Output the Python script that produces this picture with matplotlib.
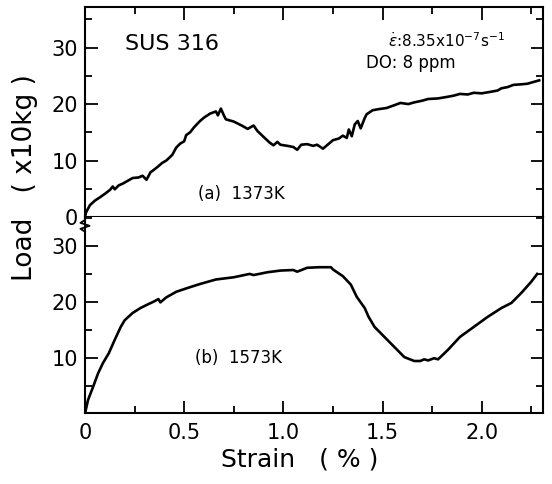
import matplotlib
matplotlib.use('Agg')
import matplotlib.pyplot as plt
from matplotlib.ticker import MultipleLocator

# (a) 1373K
strain_a = [0, 0.005, 0.025, 0.05, 0.076, 0.10, 0.126, 0.14, 0.15, 0.17,
            0.19, 0.21, 0.24, 0.27, 0.29, 0.31, 0.33, 0.36, 0.39, 0.41,
            0.44, 0.46, 0.48, 0.50, 0.51, 0.53, 0.55, 0.58, 0.60, 0.63,
            0.66, 0.67, 0.685, 0.70, 0.71, 0.75, 0.79, 0.82, 0.85, 0.87,
            0.90, 0.93, 0.95, 0.97, 0.985, 1.02, 1.05, 1.07, 1.09, 1.12,
            1.15, 1.17, 1.20, 1.23, 1.25, 1.28, 1.30, 1.32, 1.33, 1.345,
            1.36, 1.375, 1.39, 1.41, 1.42, 1.45, 1.48, 1.52, 1.56, 1.59,
            1.63, 1.66, 1.70, 1.73, 1.78, 1.83, 1.86, 1.89, 1.93, 1.96,
            2.00, 2.05, 2.08, 2.10, 2.13, 2.16, 2.20, 2.23, 2.26, 2.29]
load_a = [0, 0.8, 2.1, 2.9, 3.5, 4.1, 4.8, 5.4, 4.9, 5.6,
          5.9, 6.3, 6.9, 7.0, 7.3, 6.6, 7.9, 8.7, 9.6, 10.0,
          11.0, 12.3, 13.0, 13.4, 14.5, 15.0, 15.9, 17.0, 17.6, 18.3,
          18.7, 18.0, 19.2, 18.0, 17.3, 16.9, 16.2, 15.6, 16.2, 15.2,
          14.2, 13.2, 12.7, 13.3, 12.8, 12.6, 12.4, 11.9, 12.8, 12.9,
          12.6, 12.8, 12.1, 13.0, 13.6, 13.9, 14.4, 14.0, 15.5, 14.3,
          16.4, 17.0, 15.7, 17.5, 18.2, 18.9, 19.1, 19.3, 19.8, 20.2,
          20.0, 20.3, 20.6, 20.9, 21.0, 21.3, 21.5, 21.8, 21.7, 22.0,
          21.9, 22.2, 22.4, 22.8, 23.0, 23.4, 23.5, 23.6, 23.9, 24.2]

# (b) 1573K
strain_b = [0, 0.015, 0.04, 0.066, 0.09, 0.12, 0.15, 0.18, 0.20, 0.24,
            0.28, 0.32, 0.35, 0.37, 0.38, 0.41, 0.46, 0.51, 0.58, 0.66,
            0.75, 0.83, 0.85, 0.92, 0.985, 1.05, 1.07, 1.12, 1.18, 1.24,
            1.25, 1.30, 1.34, 1.37, 1.41, 1.43, 1.46, 1.51, 1.56, 1.61,
            1.66, 1.69, 1.71, 1.73, 1.76, 1.78, 1.83, 1.89, 1.96, 2.03,
            2.10, 2.15, 2.20, 2.25, 2.28]
load_b = [0, 2.4, 4.7, 7.2, 9.0, 10.8, 13.2, 15.5, 16.7, 18.0,
          18.9, 19.6, 20.1, 20.5, 19.9, 20.8, 21.8, 22.4, 23.2, 24.0,
          24.4, 25.0, 24.8, 25.3, 25.6, 25.7, 25.4, 26.1, 26.2, 26.2,
          25.8, 24.6, 23.1, 20.9, 18.9, 17.3, 15.5, 13.7, 11.9, 10.1,
          9.4, 9.4, 9.7, 9.5, 9.9, 9.7, 11.4, 13.7, 15.5, 17.3,
          18.9, 19.8, 21.6, 23.6, 25.0]

x_ticks = [0, 0.5, 1.0, 1.5, 2.0]
x_labels = ['0', '0.5', '1.0', '1.5', '2.0']
top_yticks = [0, 10, 20, 30]
bottom_yticks = [10, 20, 30]

plt.rcParams['font.family'] = 'DejaVu Sans'


def style_axis(ax):
    """
    Inward ticks on all four sides, like the old plotter output
    """
    for s in ax.spines.values():
        s.set_linewidth(1.5)
    ax.xaxis.set_minor_locator(MultipleLocator(0.25))
    ax.yaxis.set_minor_locator(MultipleLocator(5))
    ax.tick_params(which='both', direction='in', width=1.3, left=True, right=True, labelsize=15)
    ax.tick_params(which='major', length=9, pad=5)
    ax.tick_params(which='minor', length=5)
    ax.set_xlim(0, 2.31)


fig = plt.figure(figsize=(5.52, 4.84), dpi=100)
ax1 = fig.add_axes([0.154, 0.5517, 0.830, 0.4339])
ax2 = fig.add_axes([0.154, 0.1457, 0.830, 0.4060])

ax1.plot(strain_a, load_a, color='black', lw=1.9)
ax2.plot(strain_b, load_b, color='black', lw=1.9)

style_axis(ax1)
style_axis(ax2)

ax1.set_ylim(0, 37.2)
ax1.set_yticks(top_yticks)
ax1.tick_params(which='both', top=True, bottom=False, labelbottom=False)

ax2.set_ylim(0, 35.2)
ax2.set_yticks(bottom_yticks)
ax2.spines['top'].set_visible(False)
ax2.tick_params(which='both', top=False)
ax2.set_xticks(x_ticks)
ax2.set_xticklabels(x_labels)
ax2.tick_params(axis='x', which='major', pad=7)

# break mark on the left spine
ax2.plot([0, -0.01, 0.01, -0.01, 0], [0.985, 0.97, 0.955, 0.94, 0.925],
         transform=ax2.transAxes, color='black', lw=1.3, clip_on=False)

ax1.text(0.20, 30.6, 'SUS 316', fontsize=16, va='center')
ax1.text(1.53, 31.3, r'$\dot{\epsilon}$:8.35x10$^{-7}$s$^{-1}$', fontsize=11, va='center')
ax1.text(1.415, 27.3, 'DO: 8 ppm', fontsize=12, va='center')
ax1.text(0.57, 4.1, '(a)  1373K', fontsize=12, va='center')
ax2.text(0.555, 9.9, '(b)  1573K', fontsize=12, va='center')

fig.text(0.045, 0.634, 'Load   ( x10kg )', rotation=90, fontsize=19, ha='center', va='center')
fig.text(0.543, 0.05, 'Strain   ( % )', fontsize=18, ha='center', va='center')

plt.savefig('out.png', dpi=100)
